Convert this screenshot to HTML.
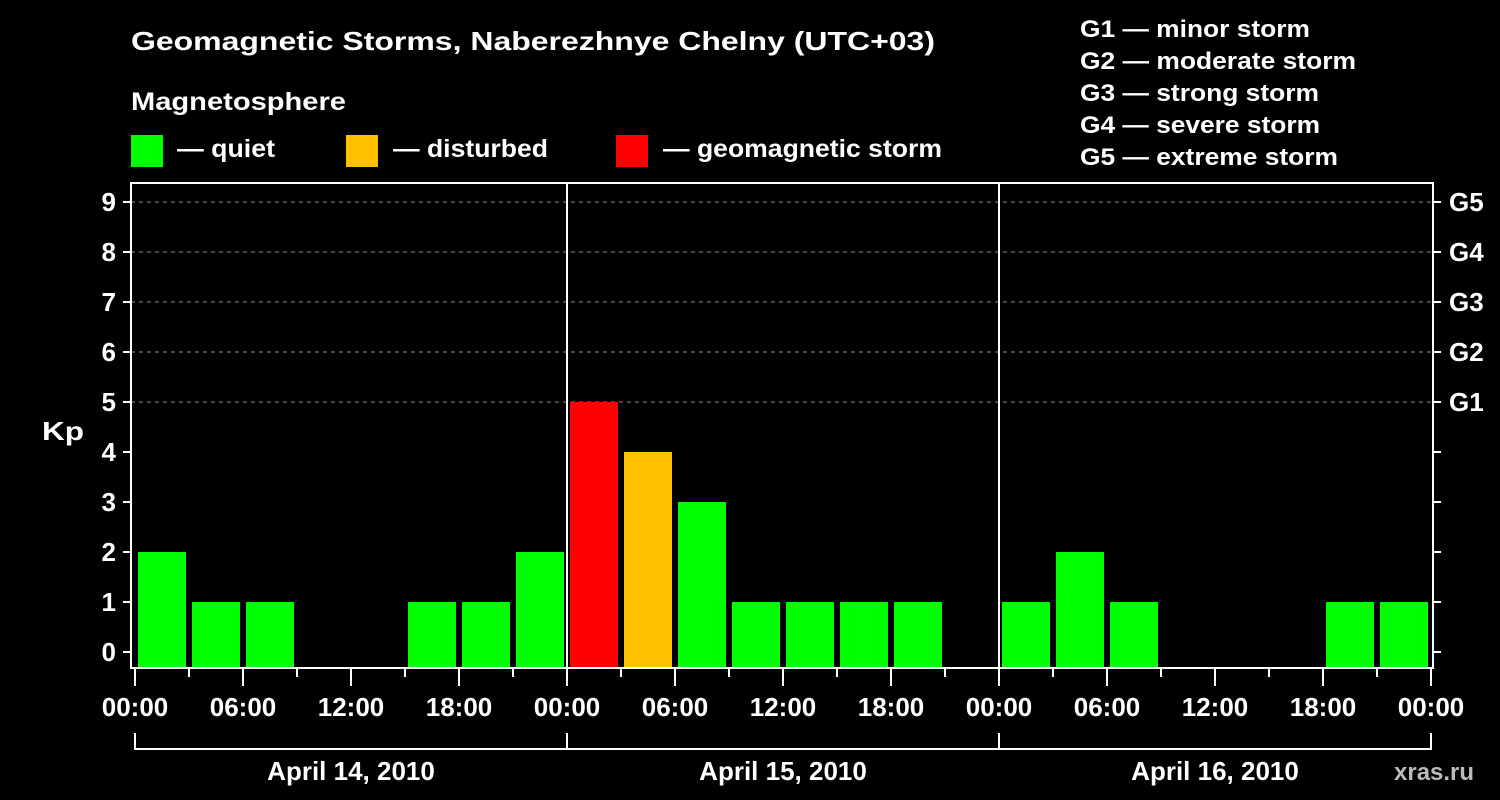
<!DOCTYPE html>
<html><head><meta charset="utf-8"><style>
html,body{margin:0;padding:0;background:#000;}
svg{display:block;}
svg text{font-family:"Liberation Sans",Arial,sans-serif;font-weight:bold;}
</style></head><body>
<svg id="chart" width="1500" height="800" viewBox="0 0 1500 800" font-family="Liberation Sans, Arial, sans-serif" font-weight="bold">
<text x="131" y="50" fill="#fff" font-size="26" textLength="804" lengthAdjust="spacingAndGlyphs">Geomagnetic Storms, Naberezhnye Chelny (UTC+03)</text>
<text x="131" y="110" fill="#fff" font-size="25" textLength="215" lengthAdjust="spacingAndGlyphs">Magnetosphere</text>
<g><rect x="131" y="135" width="32" height="32" fill="#00ff00"/><text x="177" y="157" fill="#fff" font-size="25" textLength="98" lengthAdjust="spacingAndGlyphs">— quiet</text></g>
<g><rect x="346" y="135" width="32" height="32" fill="#ffc000"/><text x="393" y="157" fill="#fff" font-size="25" textLength="155" lengthAdjust="spacingAndGlyphs">— disturbed</text></g>
<g><rect x="616" y="135" width="32" height="32" fill="#ff0000"/><text x="663" y="157" fill="#fff" font-size="25" textLength="279" lengthAdjust="spacingAndGlyphs">— geomagnetic storm</text></g>
<g fill="#fff" font-size="24">
<text x="1080" y="37" textLength="230" lengthAdjust="spacingAndGlyphs">G1 — minor storm</text>
<text x="1080" y="69" textLength="276" lengthAdjust="spacingAndGlyphs">G2 — moderate storm</text>
<text x="1080" y="101" textLength="239" lengthAdjust="spacingAndGlyphs">G3 — strong storm</text>
<text x="1080" y="133" textLength="240" lengthAdjust="spacingAndGlyphs">G4 — severe storm</text>
<text x="1080" y="165" textLength="258" lengthAdjust="spacingAndGlyphs">G5 — extreme storm</text>
</g>
<text x="42" y="440" fill="#fff" font-size="26" textLength="42" lengthAdjust="spacingAndGlyphs">Kp</text>
<text x="1394" y="780" fill="#bbb" font-size="24">xras.ru</text>
<g id="grid"></g><g id="bars"></g><g id="axes"></g>
</svg>
<script>
const kpValues=[2,1,1,0,0,1,1,2, 5,4,3,1,1,1,1,0, 1,2,1,0,0,0,1,1];
const dayLabels=["April 14, 2010","April 15, 2010","April 16, 2010"];
const hourLabels=["00:00","06:00","12:00","18:00"];
const gLabels=["G1","G2","G3","G4","G5"];
const yTicks=[0,1,2,3,4,5,6,7,8,9];
const NS="http://www.w3.org/2000/svg";
const x0=135,slot=54,plotLeft=131,plotRight=1433,plotTop=183,plotBottom=668;
const xs=i=>x0+i*slot;
const ys=v=>652-v*50;
function mk(tag,attrs,parent,text){const e=document.createElementNS(NS,tag);for(const k in attrs)e.setAttribute(k,attrs[k]);if(text!==undefined)e.textContent=text;parent.appendChild(e);return e;}
const grid=document.getElementById('grid'),bars=document.getElementById('bars'),axes=document.getElementById('axes');
for(let v=5;v<=9;v++){const l=mk('line',{x1:plotLeft,x2:plotRight,y1:ys(v),y2:ys(v),stroke:'#888','stroke-dasharray':'4,4','stroke-width':1},grid);

}
kpValues.forEach((v,i)=>{if(v<=0)return;const c=v>=5?'#ff0000':(v>=4?'#ffc000':'#00ff00');
const r=mk('rect',{x:xs(i)+3,y:ys(v),width:48,height:plotBottom-ys(v),fill:c},bars);

});
const frame=mk('rect',{x:plotLeft,y:plotTop,width:plotRight-plotLeft,height:plotBottom-plotTop,fill:'none',stroke:'#fff','stroke-width':2},axes);


for(let d=1;d<dayLabels.length;d++){const l=mk('line',{x1:xs(d*8),x2:xs(d*8),y1:plotTop,y2:plotBottom,stroke:'#fff','stroke-width':2},axes);

}
yTicks.forEach(v=>{mk('line',{x1:123,x2:plotLeft,y1:ys(v),y2:ys(v),stroke:'#fff','stroke-width':2},axes);
mk('line',{x1:plotRight,x2:1441,y1:ys(v),y2:ys(v),stroke:'#fff','stroke-width':2},axes);
const t=mk('text',{x:116,y:ys(v)+9,fill:'#fff','font-size':26,'text-anchor':'end'},axes,String(v));

});
gLabels.forEach((g,i)=>{const t=mk('text',{x:1449,y:ys(5+i)+9,fill:'#fff','font-size':26},axes,g);

});
for(let i=0;i<=kpValues.length;i++){const major=i%2===0;
mk('line',{x1:xs(i),x2:xs(i),y1:plotBottom,y2:major?686:677,stroke:'#fff','stroke-width':2},axes);
if(major){const t=mk('text',{x:xs(i),y:716,fill:'#fff','font-size':26,'text-anchor':'middle'},axes,hourLabels[(i/2)%4]);

}}
dayLabels.forEach((d,k)=>{const a=xs(k*8),b=xs(k*8+8);
const p=mk('path',{d:`M${a},733V749H${b}V733`,fill:'none',stroke:'#fff','stroke-width':2},axes);


const t=mk('text',{x:(a+b)/2,y:780,fill:'#fff','font-size':26,'text-anchor':'middle'},axes,d);

});
</script>
</body></html>
